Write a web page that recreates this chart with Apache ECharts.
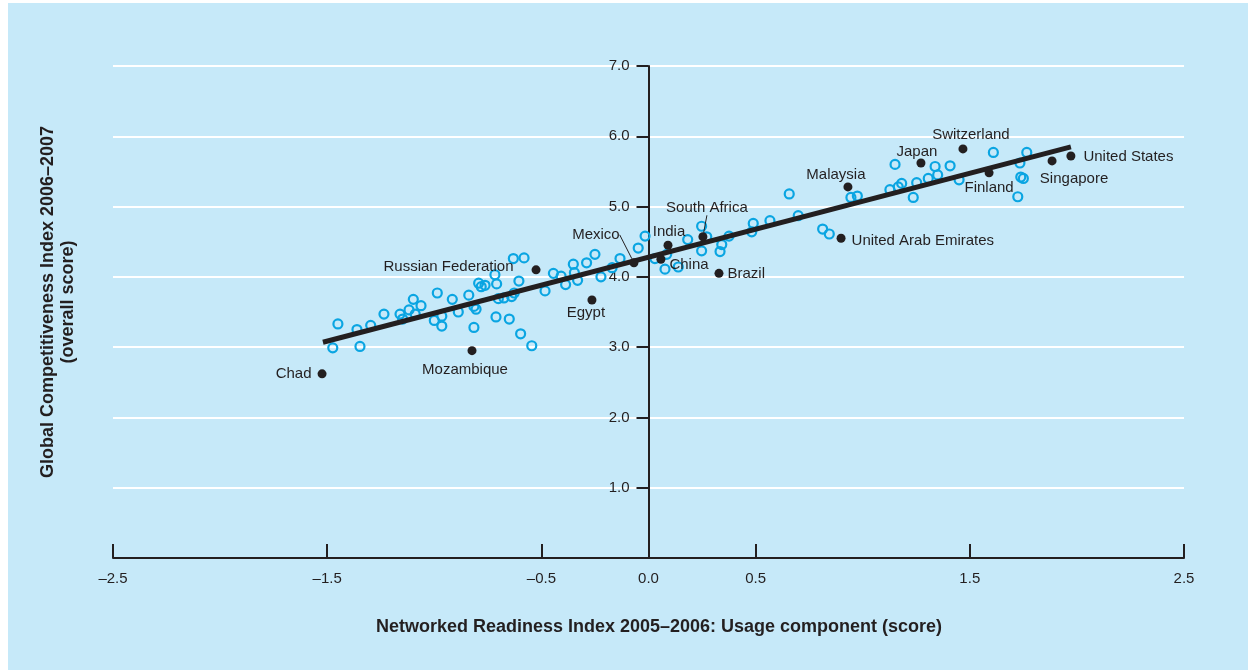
<!DOCTYPE html>
<html>
<head>
<meta charset="utf-8">
<script src="https://cdn.jsdelivr.net/npm/echarts@6/dist/echarts.min.js"></script>
<style>
  html, body { margin: 0; padding: 0; background: #ffffff; }
  #chart { width: 1248px; height: 670px; }
</style>
</head>
<body>
<div id="chart"></div>
<script>
// Networked Readiness usage score (x) vs. Global Competitiveness Index (y)

// Highlighted economies
const countryNames = ['Chad', 'Mozambique', 'Russian Federation', 'Egypt', 'Mexico', 'India', 'China',
  'South Africa', 'Brazil', 'Malaysia', 'United Arab Emirates', 'Japan', 'Switzerland', 'Finland',
  'Singapore', 'United States'];
const countryX = [-1.524, -0.824, -0.525, -0.264, -0.068, 0.091, 0.058, 0.254, 0.329, 0.931, 0.899,
  1.272, 1.468, 1.590, 1.884, 1.972];
const countryY = [2.62, 2.95, 4.10, 3.67, 4.20, 4.45, 4.25, 4.57, 4.05, 5.28, 4.55, 5.62, 5.82, 5.48,
  5.65, 5.72];

// All other economies
const otherX = [-1.474, -1.450, -1.361, -1.347, -1.297, -1.235, -1.160, -1.148, -1.118, -1.098, -1.089,
  -1.062, -1.000, -0.986, -0.965, -0.965, -0.916, -0.888, -0.839, -0.815, -0.805, -0.815, -0.793, -0.781,
  -0.763, -0.717, -0.709, -0.712, -0.701, -0.675, -0.650, -0.639, -0.627, -0.605, -0.631, -0.581, -0.597,
  -0.545, -0.483, -0.444,
  -0.408, -0.387, -0.351, -0.346, -0.331, -0.289, -0.250, -0.222, -0.170, -0.133, -0.048, -0.016, 0.030,
  0.077, 0.085, 0.139, 0.183, 0.248, 0.248, 0.272, 0.334, 0.342, 0.376, 0.482, 0.489, 0.567, 0.657, 0.699,
  0.813, 0.844,
  0.945, 0.975, 1.127, 1.151, 1.182, 1.166, 1.236, 1.252, 1.306, 1.338, 1.350, 1.408, 1.450, 1.610, 1.734,
  1.766, 1.738, 1.750, 1.724];
const otherY = [2.99, 3.33, 3.25, 3.01, 3.31, 3.47, 3.47, 3.40, 3.53, 3.68, 3.47,
  3.59, 3.38, 3.77, 3.44, 3.30, 3.68, 3.50, 3.74, 3.58, 3.54, 3.28, 3.91, 3.86,
  3.88, 4.03, 3.90, 3.43, 3.69, 3.70, 3.40, 3.72, 3.77, 3.94, 4.26, 4.27, 3.19,
  3.02, 3.80, 4.05,
  4.01, 3.89, 4.18, 4.06, 3.95, 4.20, 4.32, 4.00, 4.13, 4.26, 4.41, 4.58, 4.26,
  4.11, 4.32, 4.14, 4.53, 4.72, 4.37, 4.57, 4.36, 4.46, 4.58, 4.64, 4.76, 4.80, 5.18, 4.87,
  4.68, 4.61,
  5.13, 5.15, 5.24, 5.60, 5.33, 5.28, 5.13, 5.34, 5.40, 5.57, 5.45, 5.58, 5.38, 5.77, 5.62,
  5.77, 5.42, 5.40, 5.14];

// Fitted trend line end points
const trendX = [-1.52, 1.972];
const trendY = [3.07, 5.85];

// Axis tick values
const xTickValues = [-2.5, -1.5, -0.5, 0.5, 1.5, 2.5];
const xLabelValues = [-2.5, -1.5, -0.5, 0, 0.5, 1.5, 2.5];
const yTickValues = [0, 1, 2, 3, 4, 5, 6, 7];
const yLabelValues = [1, 2, 3, 4, 5, 6, 7];

const INK = '#231f20';
const CYAN = '#0aa5e2';
const PANEL = '#c6e9f9';
const FONT = '"Liberation Sans", Arial, sans-serif';

const X_MIN = -2.5, X_MAX = 2.5;
const GRID = { left: 113, right: 64, top: 66, bottom: 112 };
const CHART_W = 1248;
// The value axis stands at x = 0, so shift it in from the grid's left edge
const yAxisShift = -((0 - X_MIN) / (X_MAX - X_MIN)) * (CHART_W - GRID.left - GRID.right);

// Label placement for each highlighted economy
const labelPlacement = {
  'Chad': { position: 'left', distance: 6 },
  'Mozambique': { position: 'bottom', distance: 7, offset: [-7, 0] },
  'Russian Federation': { position: 'left', distance: 18, offset: [0, -3] },
  'Egypt': { position: 'bottom', distance: 1, offset: [-6, 0] },
  'India': { position: 'top', distance: 1, offset: [1, 0] },
  'China': { position: 'right', distance: 4, offset: [0, 6] },
  'Brazil': { position: 'right', distance: 4, offset: [0, 1] },
  'Malaysia': { position: 'top', distance: 0, offset: [-12, 0] },
  'United Arab Emirates': { position: 'right', distance: 6, offset: [0, 3] },
  'Japan': { position: 'top', distance: -1, offset: [-4, 0] },
  'Switzerland': { position: 'top', distance: 2, offset: [8, 0] },
  'Finland': { position: 'bottom', distance: 3 },
  'Singapore': { position: 'bottom', distance: 6, offset: [22, 0] },
  'United States': { position: 'right', distance: 8, offset: [0, 1] }
};
// Labels pulled away from their point and joined to it by a leader line
const leaderShift = {
  'Mexico': { dx: -38, dy: -11 },
  'South Africa': { dx: 4, dy: -12 }
};

const plainData = [];
const leaderData = [];
countryNames.forEach(function (name, i) {
  if (leaderShift[name]) {
    leaderData.push({ name: name, value: [countryX[i], countryY[i]] });
  } else {
    const p = labelPlacement[name];
    plainData.push({
      name: name,
      value: [countryX[i], countryY[i]],
      label: { position: p.position, distance: p.distance, offset: p.offset || [0, 0] }
    });
  }
});

const otherData = otherX.map(function (x, i) { return [x, otherY[i]]; });
const trendData = trendX.map(function (x, i) { return [x, trendY[i]]; });

const labelText = { color: INK, fontFamily: FONT, fontSize: 15 };

const chart = echarts.init(document.getElementById('chart'));
chart.setOption({
  animation: false,
  backgroundColor: '#ffffff',
  graphic: [
    {
      type: 'rect', z: -10, silent: true,
      shape: { x: 8, y: 3, width: 1240, height: 667 },
      style: { fill: PANEL }
    },
    {
      type: 'text', silent: true,
      x: 58, y: 302, rotation: Math.PI / 2,
      style: {
        text: 'Global Competitiveness Index 2006\u20132007\n(overall score)',
        fill: INK, font: 'bold 18px ' + FONT, align: 'center', verticalAlign: 'middle',
        lineHeight: 20
      }
    },
    {
      type: 'text', silent: true,
      x: 659, y: 627,
      style: {
        text: 'Networked Readiness Index 2005\u20132006: Usage component (score)',
        fill: INK, font: 'bold 18px ' + FONT, align: 'center', verticalAlign: 'middle'
      }
    }
  ],
  grid: GRID,
  xAxis: {
    type: 'value', min: X_MIN, max: X_MAX, interval: 0.5,
    axisLine: { lineStyle: { color: INK, width: 2 } },
    axisTick: { show: true, inside: true, length: 14, customValues: xTickValues,
      lineStyle: { color: INK, width: 2 } },
    axisLabel: {
      customValues: xLabelValues, margin: 13,
      color: INK, fontFamily: FONT, fontSize: 15,
      formatter: function (v) { return v.toFixed(1).replace('-', '\u2013'); }
    },
    splitLine: { show: false }
  },
  yAxis: {
    type: 'value', min: 0, max: 7, interval: 1,
    position: 'left', offset: yAxisShift,
    axisLine: { onZero: false, lineStyle: { color: INK, width: 2 } },
    axisTick: { show: true, length: 12, customValues: yTickValues,
      lineStyle: { color: INK, width: 2 } },
    axisLabel: {
      customValues: yLabelValues, margin: 19,
      color: INK, fontFamily: FONT, fontSize: 15,
      formatter: function (v) { return v.toFixed(1); }
    },
    splitLine: { show: true, lineStyle: { color: '#ffffff', width: 2 } }
  },
  series: [
    {
      type: 'scatter', name: 'Other economies', data: otherData, z: 2, silent: true,
      symbol: 'circle', symbolSize: 9,
      itemStyle: { color: 'rgba(0,0,0,0)', borderColor: CYAN, borderWidth: 2.2, opacity: 1 }
    },
    {
      type: 'line', name: 'Trend', data: trendData, z: 3, silent: true,
      symbol: 'none', lineStyle: { color: INK, width: 5 }
    },
    {
      type: 'scatter', name: 'Highlighted', data: plainData, z: 4, silent: true,
      symbol: 'circle', symbolSize: 9,
      itemStyle: { color: INK, opacity: 1 },
      label: Object.assign({ show: true, formatter: '{b}' }, labelText)
    },
    {
      type: 'scatter', name: 'Highlighted (leader)', data: leaderData, z: 4, silent: true,
      symbol: 'circle', symbolSize: 9,
      itemStyle: { color: INK, opacity: 1 },
      label: Object.assign({ show: true, formatter: '{b}', position: 'top', distance: 5 }, labelText),
      labelLayout: function (params) {
        const s = leaderShift[leaderData[params.dataIndex].name];
        return { dx: s.dx, dy: s.dy };
      },
      labelLine: { show: true, lineStyle: { color: INK, width: 1 } }
    }
  ]
});
</script>
</body>
</html>
